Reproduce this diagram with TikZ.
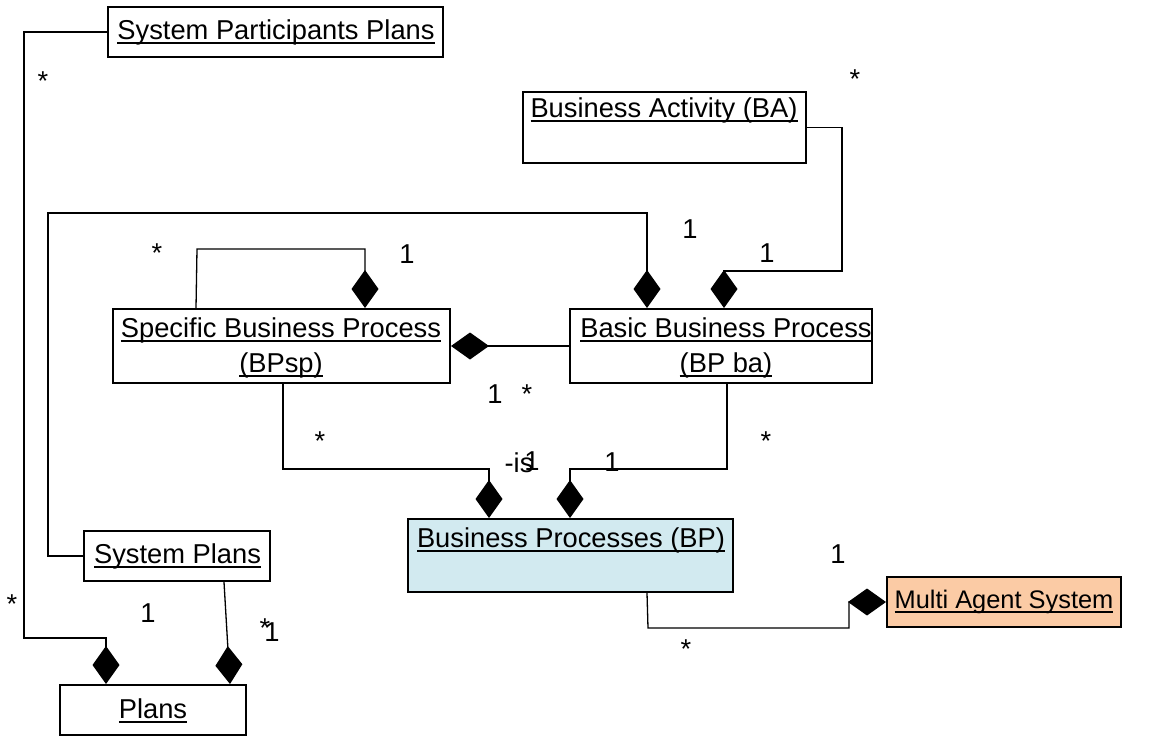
\documentclass[tikz,border=0pt]{standalone}
\usepackage{fontspec}
\setmainfont{Liberation Sans}
\usetikzlibrary{arrows.meta,calc}
% underline at a fixed offset below the baseline, crossing descenders
\newcommand\ulx[1]{\setbox0\hbox{#1}\rlap{\rule[-4.5pt]{\wd0}{1.8pt}}\box0}
\definecolor{bpfill}{HTML}{D2EAF0}
\definecolor{masfill}{HTML}{FBCBA5}
\begin{document}
\begin{tikzpicture}[x=1pt,y=-1pt,
  box/.style={draw, line width=2pt, rectangle, inner sep=0pt},
  txt/.style={anchor=base, inner sep=0pt, font=\fontsize{27.3}{35}\selectfont},
  mult/.style={anchor=base, inner sep=0pt, font=\fontsize{27.3}{35}\selectfont},
  comp/.style={line width=1.3pt, line join=miter, -{Diamond[length=38pt,width=27pt]}},
]
\useasboundingbox (0,0) rectangle (1161,736);

% class boxes
\node[box, minimum width=335pt, minimum height=50pt] (spp) at (275.5,32) {};
\node[box, minimum width=283pt, minimum height=71pt] (ba) at (664.5,127.5) {};
\node[box, minimum width=337pt, minimum height=74pt] (sbp) at (281.5,346) {};
\node[box, minimum width=302pt, minimum height=74pt] (bbp) at (721,346) {};
\node[box, minimum width=186pt, minimum height=50pt] (sp) at (177,556) {};
\node[box, minimum width=186pt, minimum height=50pt] (plans) at (153,710) {};
\node[box, fill=bpfill, minimum width=325pt, minimum height=73pt] (bp) at (570.5,555.5) {};
\node[box, fill=masfill, minimum width=234pt, minimum height=50pt] (mas) at (1004,602) {};

% class names
\node[txt] (spp-t) at (276,39) {\ulx{System Participants Plans}};
\node[txt] (ba-t) at (664,117) {\ulx{Business Activity (BA)}};
\node[txt] (sbp-t1) at (281,337) {\ulx{Specific Business Process}};
\node[txt] (sbp-t2) at (281,372) {\ulx{(BPsp)}};
\node[txt] (bbp-t1) at (726,337) {\ulx{Basic Business Process}};
\node[txt] (bbp-t2) at (726,372) {\ulx{(BP ba)}};
\node[txt] (sp-t) at (177.5,563) {\ulx{System Plans}};
\node[txt] (plans-t) at (153,718) {\ulx{Plans}};
\node[txt] (bp-t) at (571,547) {\ulx{Business Processes (BP)}};
\node[txt, font=\fontsize{25.4}{32}\selectfont] (mas-t) at (1004,608) {\ulx{Multi Agent System}};

% composition connectors
\draw[comp] (spp.west) -- (24,32) -- (24,638) -| ([xshift=47pt]plans.north west);
\draw[comp] ([xshift=47pt]sp.south) -- ([xshift=77pt]plans.north);
\draw[comp] (sp.west) -- (48,556) -- (48,213) -| ([xshift=78pt]bbp.north west);
\draw[comp] ([xshift=84pt]sbp.north west) -- (197,249) -| ([xshift=253pt]sbp.north west);
\draw[comp] (bbp.west) -- (sbp.east);
\draw[comp] (ba.east) -- (842,127.5) -- (842,271) -| ([xshift=155pt]bbp.north west);
\draw[comp] ([xshift=1.5pt]sbp.south) -- (283,469) -| ([xshift=82pt]bp.north west);
\draw[comp] ([xshift=6pt]bbp.south) -- (727,469) -| ([xshift=163pt]bp.north west);
\draw[comp] ([xshift=240pt]bp.south west) -- (648,628) -- (849,628) |- (mas.west);

% multiplicities
\node[mult] (m1) at (43,90) {*};
\node[mult] (m2) at (12,613) {*};
\node[mult] (m3) at (148,622) {1};
\node[mult] (m4) at (265,637) {*};
\node[mult] (m5) at (272,641) {1};
\node[mult] (m6) at (157,262) {*};
\node[mult] (m7) at (407,263) {1};
\node[mult] (m8) at (855,88) {*};
\node[mult] (m9) at (690,238) {1};
\node[mult] (m10) at (767,262) {1};
\node[mult] (m11) at (495,403) {1};
\node[mult] (m12) at (527,403) {*};
\node[mult] (m13) at (320,450) {*};
\node[mult] (m14) at (519,472) {-is};
\node[mult] (m15) at (532,470) {1};
\node[mult] (m16) at (612,471) {1};
\node[mult] (m17) at (766,450) {*};
\node[mult] (m18) at (838,563) {1};
\node[mult] (m19) at (686,658) {*};
\end{tikzpicture}
\end{document}
